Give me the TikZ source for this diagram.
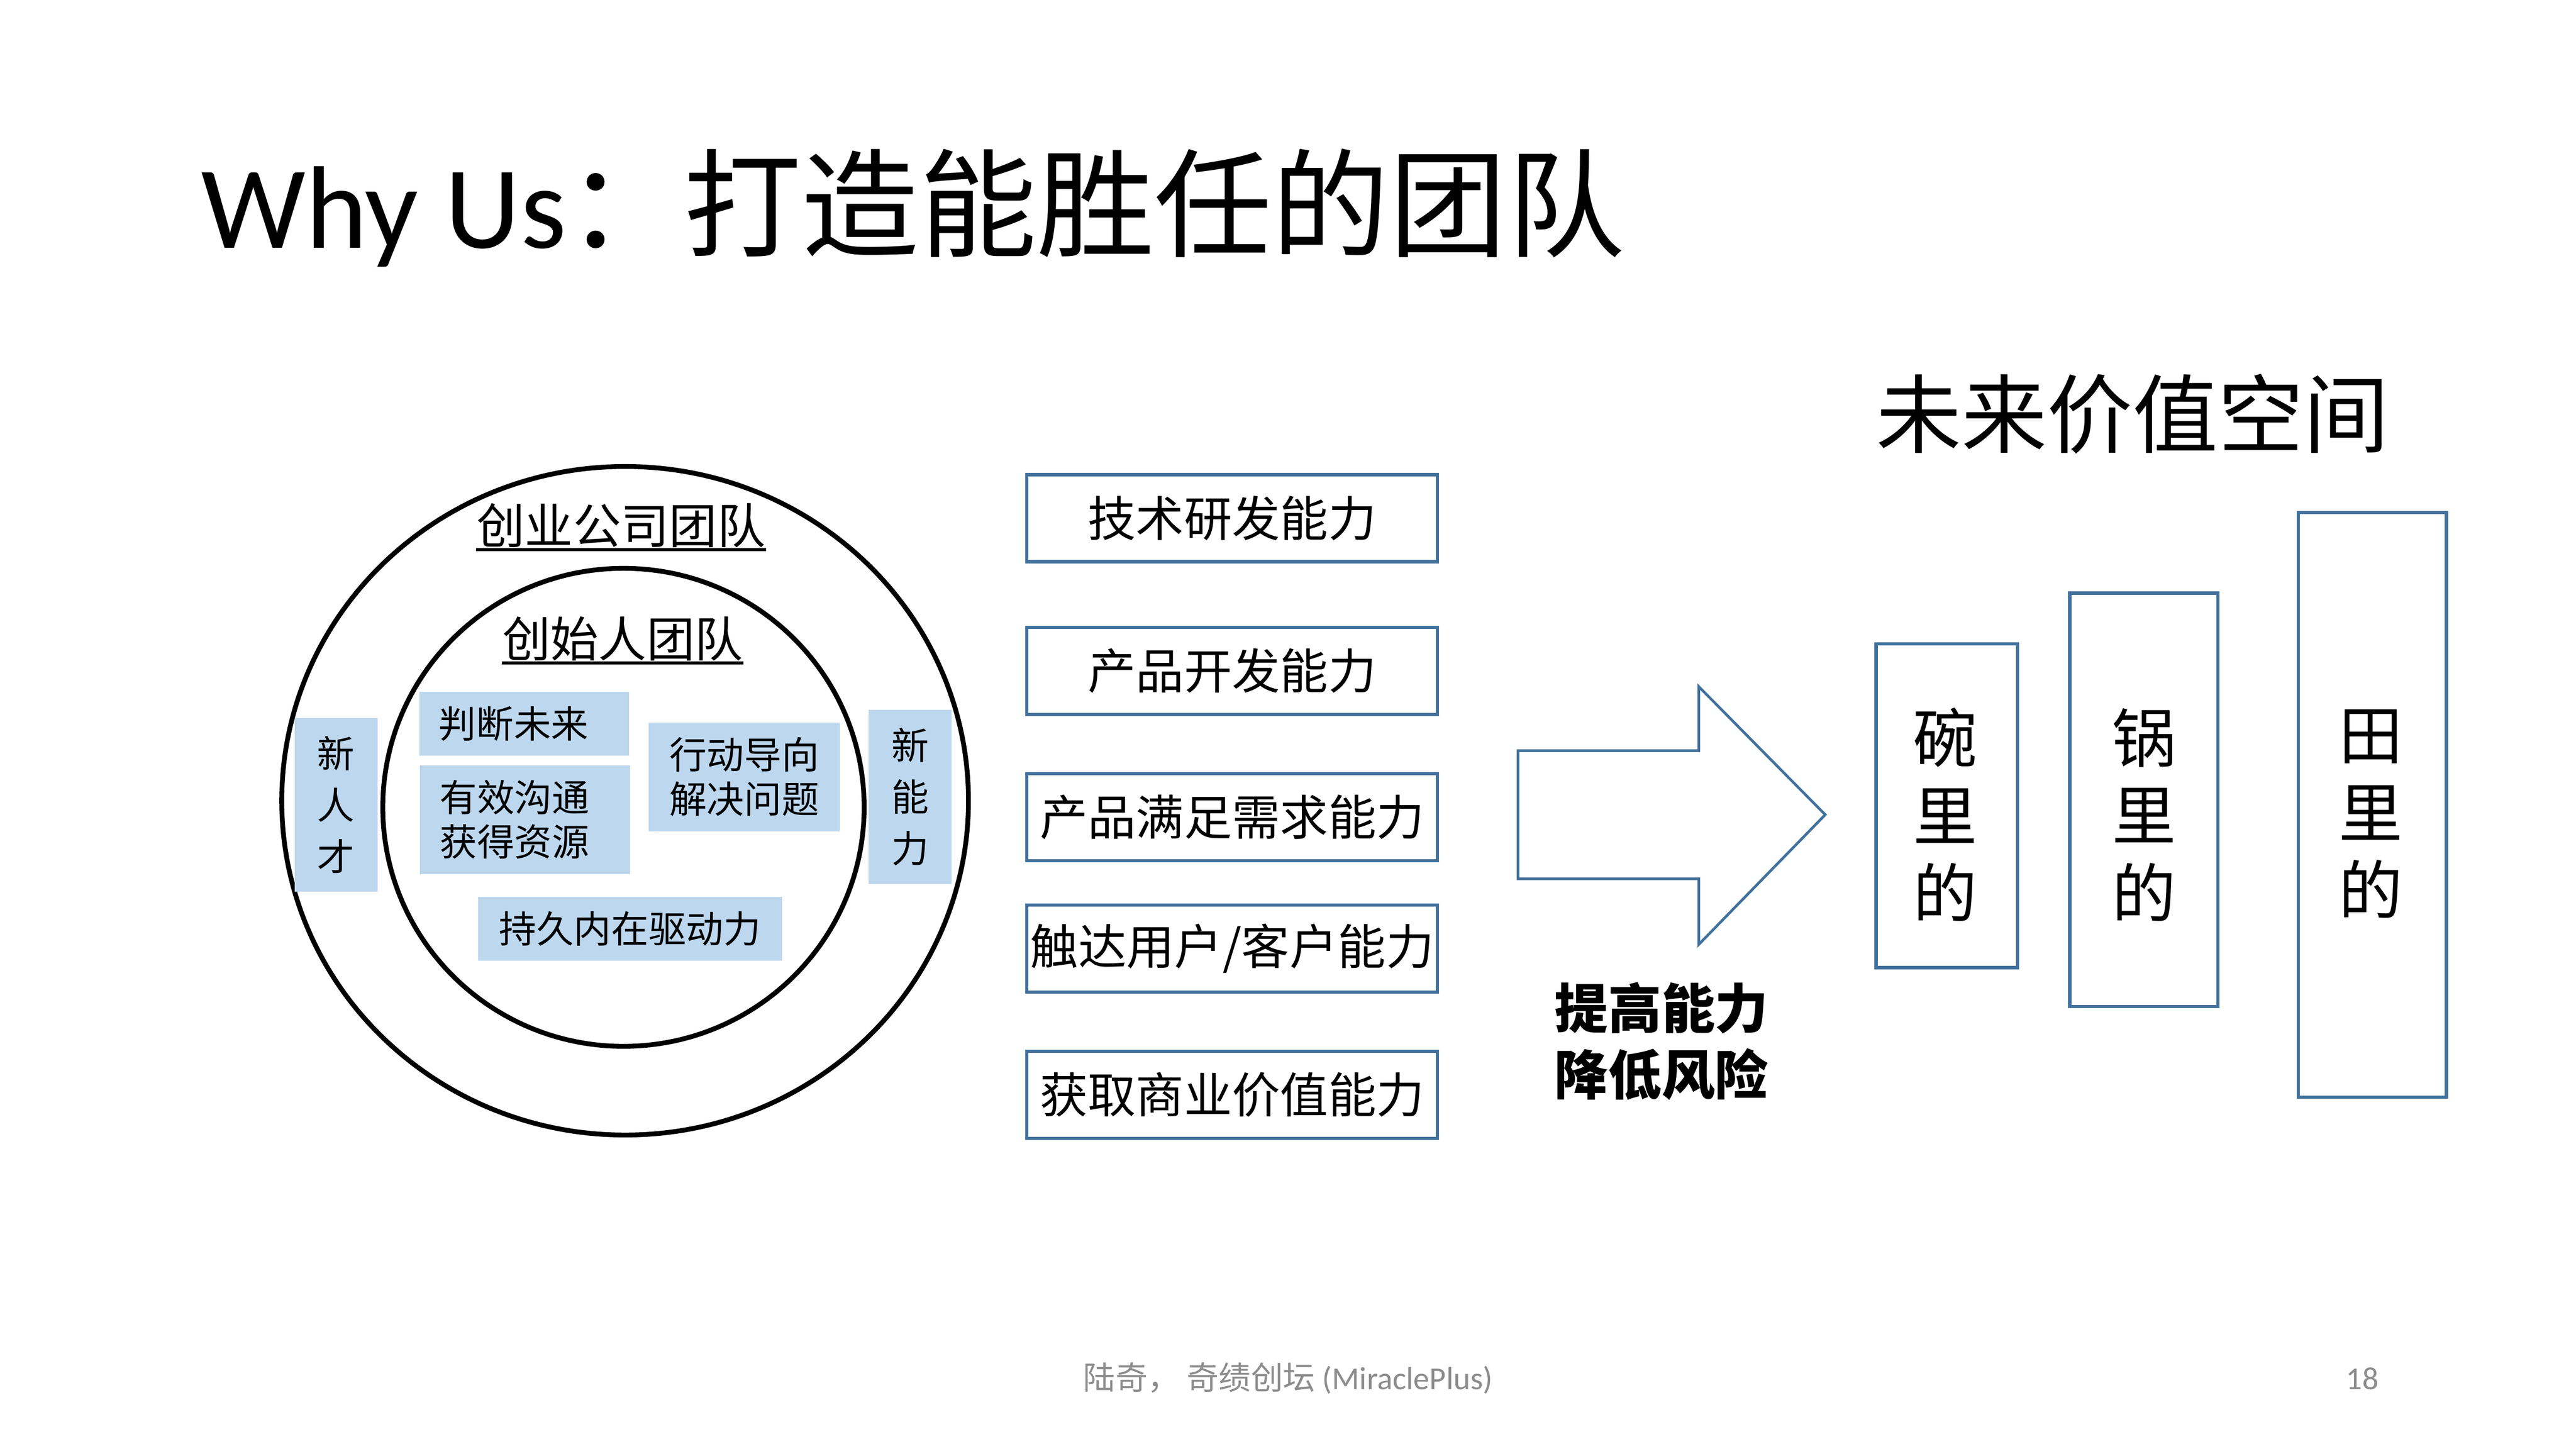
\documentclass[tikz,border=0pt]{standalone}
\usepackage{fontspec}
\setmainfont{Carlito}
\newfontfamily\cjk{Noto Sans CJK SC}
\usetikzlibrary{positioning}
\definecolor{boxblue}{HTML}{41719C}
\definecolor{noteblue}{HTML}{BDD7EE}
\definecolor{footgray}{HTML}{8C8C8C}
\tikzset{
  ring/.style={draw=black, line width=1.8pt},
  capbox/.style={draw=boxblue, line width=1.2pt, minimum width=5.4cm,
    minimum height=1.145cm, inner sep=0pt, font=\cjk\fontsize{18}{22}\selectfont},
  notebox/.style={fill=noteblue, inner sep=0pt, align=center,
    font=\cjk\fontsize{14}{16.6}\selectfont},
  tallnote/.style={notebox, minimum width=1.09cm, minimum height=2.29cm,
    font=\cjk\fontsize{14}{19.3}\selectfont},
  spacebox/.style={draw=boxblue, line width=1.2pt, inner sep=0pt,
    minimum width=1.95cm},
  spacetext/.style={inner sep=0pt, align=center, font=\cjk\fontsize{24}{29}\selectfont},
  teamtitle/.style={inner sep=0pt, font=\cjk\fontsize{18}{22}\selectfont},
}
\begin{document}
\begin{tikzpicture}[x=0.0216cm, y=-0.0216cm]
    \useasboundingbox[fill=white] (0,0) rectangle (1568,882);

    % title
    \node[anchor=base west, inner sep=0pt] (title) at (122,151)
      {\fontsize{44}{52}\selectfont Why Us{\cjk ：打造能胜任的团队}};

    % team circles
    \draw[ring] (380.5,487.5) ellipse (209 and 203.5);
    \draw[ring] (379.5,491.5) ellipse (146.5 and 145.5);
    \node[teamtitle] (company) at (378,320) {创业公司团队};
    \draw[line width=1.1pt] ([yshift=-0.5pt]company.south west)
      -- ([yshift=-0.5pt]company.south east);
    \node[teamtitle] (founders) at (379,389) {创始人团队};
    \draw[line width=1.1pt] ([yshift=-0.5pt]founders.south west)
      -- ([yshift=-0.5pt]founders.south east);

    \node[tallnote] (talent) at (204.5,490) {新\\人\\才};
    \node[tallnote] (ability) at (554,485) {新\\能\\力};
    \node[notebox, align=left, inner xsep=0.26cm, text width=2.24cm,
      minimum height=0.84cm] (judge) at (319,440.5) {判断未来};
    \node[notebox, align=left, inner xsep=0.26cm, text width=2.24cm,
      minimum height=1.43cm] (talk) at (319.5,499) {有效沟通\\获得资源};
    \node[notebox, minimum width=2.51cm, minimum height=1.43cm] (act) at (453,473)
      {行动导向\\解决问题};
    \node[notebox, minimum width=4.0cm, minimum height=0.84cm] (drive) at (383.5,565.5)
      {持久内在驱动力};

    % capabilities
    \node[capbox] (tech) at (750,315.5) {技术研发能力};
    \node[capbox] (dev) at (750,408.5) {产品开发能力};
    \node[capbox] (need) at (750,497.5) {产品满足需求能力};
    \node[capbox] (reach) at (750,577.5) {触达用户/客户能力};
    \node[capbox] (value) at (750,666.5) {获取商业价值能力};

    % block arrow
    \draw[draw=boxblue, line width=1pt] (924,457) -- (1034,457) -- (1034,418)
      -- (1111,496) -- (1034,575) -- (1034,535) -- (924,535) -- cycle;
    \node[anchor=west, align=left, inner sep=0pt,
      font=\cjk\bfseries\fontsize{20}{24.8}\selectfont] (risk) at (946,634)
      {提高能力\\降低风险};

    % value space
    \node[font=\cjk\fontsize{32}{38}\selectfont, inner sep=0pt] (space) at (1298,252)
      {未来价值空间};
    \node[spacebox, minimum width=1.86cm, minimum height=4.26cm] (bowl) at (1185,490.5) {};
    \node[spacebox, minimum height=5.44cm] (pot) at (1305,487) {};
    \node[spacebox, minimum height=7.69cm] (field) at (1444,490) {};
    \node[spacetext] (bowltext) at (1184,496) {碗\\里\\的};
    \node[spacetext] (pottext) at (1305,496) {锅\\里\\的};
    \node[spacetext] (fieldtext) at (1443,495.5) {田\\里\\的};

    % footer
    \node[anchor=base, inner sep=0pt, text=footgray, font=\fontsize{12}{14}\selectfont]
      (foot) at (784,846) {{\cjk 陆奇，} {\cjk 奇绩创坛} (MiraclePlus)};
    \node[anchor=base, inner sep=0pt, text=footgray, font=\fontsize{12}{14}\selectfont]
      (page) at (1438,846) {18};
\end{tikzpicture}
\end{document}
